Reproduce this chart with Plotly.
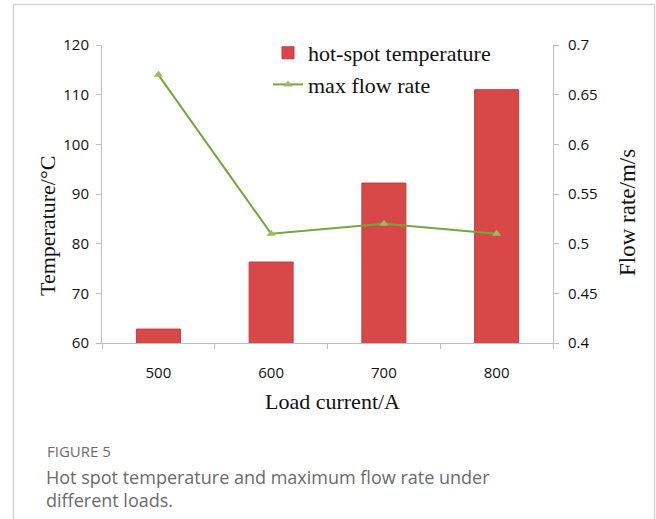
import plotly.graph_objects as go

categories = ["500", "600", "700", "800"]
hot_spot_temp = [62.8, 76.3, 92.2, 111.0]
max_flow_rate = [0.67, 0.51, 0.52, 0.51]

W, H = 656, 519
L, R, T, B = 102, 553, 45, 343

def px(x):
    return (x - L) / (R - L)

def py(y):
    return (B - y) / (B - T)

fig = go.Figure()
fig.add_trace(go.Bar(
    x=categories, y=hot_spot_temp, name="hot-spot temperature",
    marker=dict(color="#d94848", line=dict(color="#c03a3c", width=1)),
    width=0.39, legendgroup="a",
))
fig.add_trace(go.Scatter(
    x=categories, y=max_flow_rate, name="max flow rate", yaxis="y2",
    mode="lines+markers", legendgroup="b",
    line=dict(color="#72a83a", width=2),
    marker=dict(symbol="triangle-up", size=8, color="#9bbb59"),
))

title_font = dict(family="Liberation Serif", size=22, color="#111")
tick_font = dict(family="Open Sans", size=15, color="#111")

fig.update_layout(
    width=W, height=H,
    margin=dict(l=L, r=W - R, t=T, b=H - B),
    paper_bgcolor="white", plot_bgcolor="white",
    showlegend=True,
    legend=dict(
        x=px(268), y=py(32), xanchor="left", yanchor="top",
        font=dict(family="Liberation Serif", size=22, color="#111"),
        bgcolor="rgba(0,0,0,0)", traceorder="grouped", tracegroupgap=0,
        itemwidth=30,
    ),
    xaxis=dict(
        type="category", showline=True, linecolor="#bfbfbf", linewidth=1,
        ticks="outside", tickson="boundaries", ticklen=5, tickcolor="#bfbfbf",
        tickfont=tick_font, ticklabelstandoff=16, showgrid=False,
    ),
    yaxis=dict(
        range=[60, 120], dtick=10, showline=True, linecolor="#bfbfbf",
        ticks="outside", ticklen=5, tickcolor="#bfbfbf", tickfont=tick_font,
        showgrid=False, zeroline=False, ticklabelstandoff=4,
    ),
    yaxis2=dict(
        range=[0.4, 0.7], dtick=0.05, overlaying="y", side="right",
        showline=True, linecolor="#bfbfbf", ticks="outside", ticklen=5,
        tickcolor="#bfbfbf", tickfont=tick_font, showgrid=False, zeroline=False,
        ticklabelstandoff=6,
    ),
    shapes=[dict(
        type="rect", xref="paper", yref="paper",
        x0=px(13.5), x1=px(654.5), y0=py(530), y1=py(4.5),
        line=dict(color="#d4d4d4", width=1.5), layer="below",
    )],
    annotations=[
        dict(text="Load current/A", xref="paper", yref="paper", x=px(332), y=py(402),
             xanchor="center", yanchor="middle", showarrow=False, font=title_font),
        dict(text="Temperature/°C", xref="paper", yref="paper", x=px(47), y=py(226),
             xanchor="center", yanchor="middle", showarrow=False, textangle=-90,
             font=title_font),
        dict(text="Flow rate/m/s", xref="paper", yref="paper", x=px(627), y=py(213),
             xanchor="center", yanchor="middle", showarrow=False, textangle=-90,
             font=dict(family="Liberation Serif", size=23, color="#111")),
        dict(text="FIGURE 5", xref="paper", yref="paper", x=px(45), y=py(451),
             xanchor="left", yanchor="middle", showarrow=False,
             font=dict(family="Open Sans", size=15, color="#6b6b6b")),
        dict(text="Hot spot temperature and maximum flow rate under", xref="paper", yref="paper",
             x=px(44), y=py(477), xanchor="left", yanchor="middle", showarrow=False,
             font=dict(family="Open Sans", size=18, color="#6b6b6b")),
        dict(text="different loads.", xref="paper", yref="paper",
             x=px(44), y=py(500), xanchor="left", yanchor="middle", showarrow=False,
             font=dict(family="Open Sans", size=18, color="#6b6b6b")),
    ],
)

fig.write_html(
    "out.html",
    config={"displayModeBar": False},
    post_script="document.body.style.margin='0';document.body.style.overflow='hidden';",
)
